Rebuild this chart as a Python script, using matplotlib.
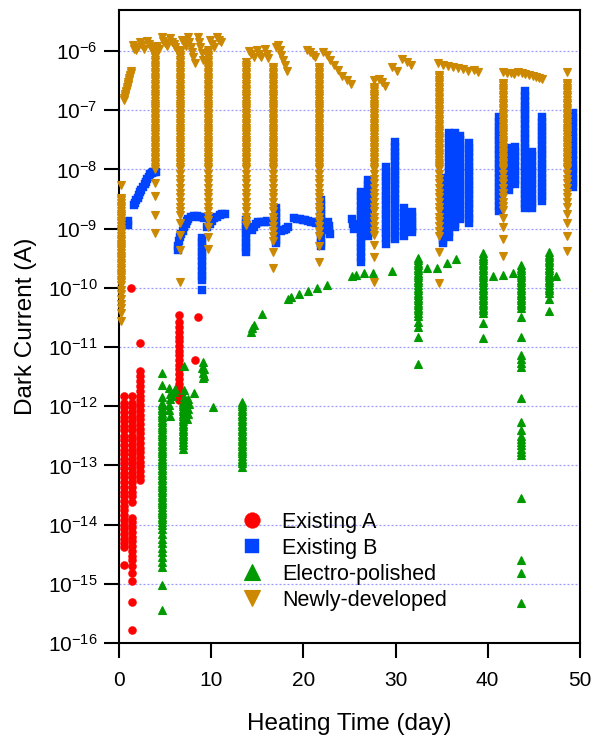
import numpy as np
import matplotlib
matplotlib.use("Agg")
import matplotlib.pyplot as plt
from matplotlib.ticker import FixedLocator, FuncFormatter, NullLocator

plt.rcParams['font.family'] = ['Liberation Sans', 'DejaVu Sans']
plt.rcParams['mathtext.default'] = 'regular'

# ---------------- data ----------------
series_names = ['Existing A', 'Existing B', 'Electro-polished', 'Newly-developed']
series_colors = ['#FF0000', '#0044FF', '#009A00', '#CC8800']
series_markers = ['o', 's', '^', 'v']
x_ticks = [0, 10, 20, 30, 40, 50]
y_tick_exponents = [-16, -15, -14, -13, -12, -11, -10, -9, -8, -7, -6]

# Existing A (red circles): isolated points and vertical runs (day, list of currents)
a_pts = [(1.27, 1.0e-10), (2.3, 1.15e-11), (8.2, 6.0e-12), (8.55, 3.2e-11)]
a_runs_x = [0.5, 1.43, 2.3, 6.43]
a_runs_y = [
    [1.5e-12, 1.15e-12, 9.6e-13, 8.0e-13, 6.7e-13, 5.6e-13, 4.6e-13, 3.9e-13, 3.2e-13, 2.7e-13, 2.2e-13,
     1.85e-13, 1.55e-13, 1.3e-13, 1.1e-13, 9.0e-14, 7.5e-14, 6.3e-14, 5.2e-14, 4.3e-14, 3.6e-14, 3.0e-14,
     2.5e-14, 2.1e-14, 1.75e-14, 1.45e-14, 1.2e-14, 1.0e-14, 8.4e-15, 7.0e-15, 5.8e-15, 4.9e-15, 4.2e-15, 2.1e-15],
    [1.5e-12, 1.15e-12, 9.6e-13, 8.0e-13, 6.7e-13, 5.6e-13, 4.6e-13, 3.9e-13, 3.2e-13, 2.7e-13, 2.2e-13,
     1.85e-13, 1.55e-13, 1.3e-13, 1.1e-13, 9.0e-14, 7.5e-14, 6.3e-14, 5.2e-14, 4.3e-14, 3.6e-14, 3.0e-14,
     2.4e-14, 1.3e-14, 1.1e-14, 9.0e-15, 7.5e-15, 6.3e-15, 5.2e-15, 4.3e-15, 3.6e-15, 3.0e-15, 2.5e-15,
     2.0e-15, 1.5e-15, 1.1e-15, 4.9e-16, 1.65e-16],
    [4.0e-12, 3.3e-12, 2.7e-12, 2.2e-12, 1.8e-12, 1.5e-12, 1.25e-12, 1.05e-12, 8.7e-13, 7.2e-13, 6.0e-13,
     5.0e-13, 4.2e-13, 3.5e-13, 2.9e-13, 2.4e-13, 2.0e-13, 1.7e-13, 1.4e-13, 1.15e-13, 9.6e-14, 8.0e-14,
     6.7e-14, 5.7e-14],
    [3.45e-11, 2.6e-11, 2.2e-11, 1.8e-11, 1.5e-11, 1.25e-11, 1.05e-11, 8.7e-12, 7.2e-12, 6.0e-12, 5.0e-12,
     4.2e-12, 3.5e-12, 2.9e-12, 2.4e-12, 2.0e-12, 1.7e-12, 1.45e-12, 1.25e-12],
]

# Existing B (blue squares)
b_pts = [
    (1.0, 1.15e-9), (1.0, 1.35e-9),
    (1.55, 2.5e-9), (1.7, 2.75e-9), (1.85, 3.0e-9), (2.0, 3.35e-9), (2.15, 3.7e-9), (2.3, 4.1e-9), (2.4, 4.5e-9),
    (2.6, 5.0e-9), (2.75, 5.6e-9), (2.9, 6.2e-9), (3.05, 6.9e-9), (3.2, 7.6e-9), (3.35, 8.3e-9), (3.5, 8.6e-9),
    (3.65, 8.9e-9), (3.8, 9.1e-9), (3.95, 9.2e-9),
    (6.4, 4.3e-10), (6.4, 5.1e-10), (6.45, 6.1e-10), (6.6, 7.2e-10), (6.75, 8.2e-10), (6.9, 9.3e-10),
    (7.05, 1.05e-9), (7.2, 1.2e-9), (7.35, 1.35e-9),
    (7.5, 1.45e-9), (7.8, 1.6e-9), (8.1, 1.65e-9), (8.4, 1.65e-9), (8.7, 1.6e-9), (9.0, 1.55e-9), (9.25, 1.5e-9),
    (9.0, 9.3e-11),
    (9.55, 1.05e-9), (9.8, 1.2e-9), (10.05, 1.35e-9), (10.3, 1.5e-9), (10.6, 1.6e-9), (10.9, 1.7e-9),
    (11.2, 1.75e-9), (11.45, 1.8e-9),
    (14.45, 9.5e-10), (14.6, 1.05e-9), (14.8, 1.2e-9), (15.1, 1.3e-9), (15.4, 1.3e-9), (15.7, 1.3e-9),
    (16.0, 1.35e-9), (16.3, 1.3e-9),
    (17.6, 9.0e-10), (17.85, 9.5e-10), (18.1, 1.0e-9), (18.3, 1.05e-9),
    (19.0, 1.5e-9), (19.3, 1.48e-9), (19.6, 1.45e-9), (19.9, 1.4e-9), (20.2, 1.38e-9), (20.5, 1.35e-9),
    (20.8, 1.3e-9), (21.1, 1.28e-9), (21.35, 1.25e-9),
    (22.7, 1.3e-9), (22.75, 1.1e-9), (22.8, 9.5e-10), (22.85, 8.2e-10),
    (25.3, 1.45e-9), (25.4, 1.2e-9), (25.5, 1.0e-9),
]
b_runs_x = [9.0, 13.75, 17.0, 21.9, 26.25, 27.0, 28.95, 29.9, 30.9, 31.8,
            35.1, 35.8, 36.45, 37.0, 37.95, 41.2, 42.3, 43.0, 44.05, 44.8, 45.9, 49.25]
b_runs_y = [
    [7.0e-10, 5.9e-10, 4.9e-10, 4.1e-10, 3.4e-10, 2.8e-10, 2.3e-10, 1.95e-10, 1.6e-10, 1.35e-10],
    [1.4e-9, 1.2e-9, 1.0e-9, 8.4e-10, 7.0e-10, 5.8e-10, 4.9e-10, 4.1e-10],
    [2.2e-9, 1.85e-9, 1.55e-9, 1.3e-9, 1.1e-9, 9.2e-10, 7.7e-10, 6.4e-10, 5.7e-10],
    [3.0e-9, 2.5e-9, 2.1e-9, 1.75e-9, 1.45e-9, 1.2e-9, 1.0e-9, 8.4e-10, 7.0e-10, 5.8e-10, 5.0e-10],
    [4.1e-9, 3.5e-9, 2.9e-9, 2.4e-9, 2.0e-9, 1.7e-9, 1.4e-9, 1.2e-9, 1.0e-9, 8.4e-10, 7.0e-10, 5.8e-10,
     4.9e-10, 4.0e-10, 3.3e-10, 2.7e-10],
    [6.6e-9, 5.5e-9, 4.6e-9, 3.8e-9, 3.2e-9, 2.6e-9, 2.2e-9, 1.85e-9, 1.55e-9, 1.3e-9, 1.1e-9, 9.0e-10, 7.4e-10],
    [1.1e-8, 9.0e-9, 7.5e-9, 6.3e-9, 5.2e-9, 4.3e-9, 3.6e-9, 3.0e-9, 2.5e-9, 2.1e-9, 1.75e-9, 1.45e-9,
     1.2e-9, 1.0e-9, 8.4e-10, 7.0e-10, 5.5e-10],
    [2.9e-8, 2.4e-8, 2.0e-8, 1.7e-8, 1.4e-8, 1.15e-8, 9.6e-9, 8.0e-9, 6.7e-9, 5.6e-9, 4.6e-9, 3.9e-9,
     3.2e-9, 2.7e-9, 2.2e-9, 1.85e-9, 1.55e-9, 1.3e-9, 1.1e-9, 9.0e-10, 7.5e-10, 6.7e-10],
    [2.2e-9, 1.85e-9, 1.55e-9, 1.3e-9, 1.1e-9, 9.0e-10, 7.4e-10],
    [1.9e-9, 1.6e-9, 1.35e-9, 1.15e-9, 1.0e-9, 8.8e-10],
    [7.1e-9, 5.9e-9, 4.9e-9, 4.1e-9, 3.4e-9, 2.8e-9, 2.3e-9, 1.95e-9, 1.6e-9, 1.35e-9, 1.1e-9, 9.3e-10,
     7.8e-10, 6.5e-10, 5.7e-10],
    [4.1e-8, 3.4e-8, 2.8e-8, 2.3e-8, 1.9e-8, 1.6e-8, 1.35e-8, 1.1e-8, 9.3e-9, 7.8e-9, 6.5e-9, 5.4e-9,
     4.5e-9, 3.7e-9, 3.1e-9, 2.6e-9, 2.2e-9, 1.8e-9, 1.5e-9, 1.25e-9, 1.05e-9, 8.7e-10, 7.3e-10],
    [4.1e-8, 3.4e-8, 2.8e-8, 2.35e-8, 1.95e-8, 1.6e-8, 1.35e-8, 1.1e-8, 9.2e-9, 7.7e-9, 6.4e-9, 5.3e-9,
     4.4e-9, 3.7e-9, 3.1e-9, 2.6e-9, 2.2e-9, 1.8e-9, 1.5e-9, 1.25e-9, 1.05e-9],
    [3.7e-8, 3.1e-8, 2.6e-8, 2.2e-8, 1.8e-8, 1.5e-8, 1.25e-8, 1.05e-8, 8.7e-9, 7.2e-9, 6.0e-9, 5.0e-9,
     4.2e-9, 3.5e-9, 2.9e-9, 2.4e-9, 2.0e-9, 1.7e-9, 1.45e-9],
    [2.8e-8, 2.3e-8, 1.95e-8, 1.6e-8, 1.35e-8, 1.1e-8, 9.3e-9, 7.8e-9, 6.5e-9, 5.4e-9, 4.5e-9, 3.8e-9,
     3.2e-9, 2.6e-9, 2.2e-9, 1.8e-9, 1.5e-9, 1.25e-9],
    [7.7e-8, 6.4e-8, 5.3e-8, 4.4e-8, 3.7e-8, 3.1e-8, 2.6e-8, 2.1e-8, 1.8e-8, 1.5e-8, 1.25e-8, 1.05e-8,
     8.7e-9, 7.2e-9, 6.0e-9, 5.0e-9, 4.2e-9, 3.5e-9, 2.9e-9, 2.4e-9, 2.0e-9],
    [2.3e-8, 1.9e-8, 1.6e-8, 1.35e-8, 1.1e-8, 9.3e-9, 7.8e-9, 6.5e-9, 5.4e-9, 4.5e-9],
    [2.4e-8, 2.0e-8, 1.7e-8, 1.4e-8, 1.15e-8, 9.6e-9, 8.0e-9, 6.7e-9, 5.6e-9],
    [2.1e-7, 1.75e-7, 1.45e-7, 1.2e-7, 1.0e-7, 8.4e-8, 7.0e-8, 5.8e-8, 4.9e-8, 4.0e-8, 3.4e-8, 2.8e-8,
     2.3e-8, 1.95e-8, 1.6e-8, 1.35e-8, 1.1e-8, 9.3e-9, 7.8e-9, 6.5e-9, 5.4e-9, 4.5e-9, 3.8e-9, 3.2e-9,
     2.6e-9, 2.2e-9],
    [2.0e-8, 1.7e-8, 1.4e-8, 1.15e-8, 9.6e-9, 8.0e-9, 6.7e-9, 5.6e-9, 4.6e-9, 3.9e-9, 3.2e-9, 2.7e-9, 2.2e-9],
    [7.7e-8, 6.4e-8, 5.3e-8, 4.4e-8, 3.7e-8, 3.1e-8, 2.6e-8, 2.1e-8, 1.8e-8, 1.5e-8, 1.25e-8, 1.05e-8,
     8.7e-9, 7.2e-9, 6.0e-9, 5.0e-9, 4.2e-9, 3.5e-9, 2.9e-9],
    [9.0e-8, 7.5e-8, 6.3e-8, 5.2e-8, 4.3e-8, 3.6e-8, 3.0e-8, 2.5e-8, 2.1e-8, 1.75e-8, 1.45e-8, 1.2e-8,
     1.0e-8, 8.4e-9, 7.0e-9, 5.8e-9, 5.0e-9],
]

# Electro-polished (green up-triangles)
e_pts = [
    (5.45, 2.0e-12), (5.5, 1.6e-12), (5.5, 1.3e-12), (5.45, 1.05e-12), (5.45, 8.5e-13), (5.5, 6.8e-13),
    (5.75, 1.5e-12), (5.9, 1.75e-12), (6.0, 1.95e-12),
    (7.0, 4.8e-12), (7.05, 1.9e-12), (7.0, 1.45e-12),
    (7.5, 1.3e-12), (7.55, 1.1e-12), (7.5, 9.0e-13), (7.45, 7.5e-13), (7.4, 6.2e-13),
    (8.1, 1.7e-12),
    (9.1, 5.6e-12), (9.0, 4.5e-12), (9.2, 4.2e-12), (9.05, 3.7e-12), (9.15, 3.3e-12), (9.1, 3.0e-12),
    (10.2, 9.6e-13),
    (14.3, 1.8e-11), (14.45, 2.1e-11), (14.6, 2.4e-11), (15.45, 3.6e-11),
    (18.3, 6.5e-11), (18.6, 7.0e-11), (19.5, 8.0e-11), (20.5, 8.8e-11), (21.5, 1.0e-10), (22.55, 1.1e-10),
    (25.3, 1.6e-10), (25.65, 1.65e-10), (26.6, 1.75e-10), (27.5, 1.8e-10), (29.6, 1.9e-10),
    (33.4, 2.15e-10), (34.5, 2.2e-10), (35.6, 2.6e-10), (36.6, 3.05e-10),
    (40.6, 1.6e-10), (41.7, 1.65e-10), (42.7, 1.8e-10),
    (47.45, 1.6e-10),
]
e_runs_x = [4.64, 6.95, 13.3, 32.4, 39.5, 43.6, 46.65]
e_runs_y = [
    [3.6e-12, 2.3e-12, 1.45e-12, 1.15e-12, 1.05e-12, 9.5e-13, 8.6e-13, 7.8e-13, 7.1e-13, 6.5e-13, 5.9e-13,
     5.4e-13, 4.9e-13, 4.5e-13, 4.1e-13, 3.7e-13, 3.4e-13, 3.1e-13, 2.8e-13, 2.55e-13, 2.3e-13, 2.1e-13,
     1.9e-13, 1.75e-13, 1.6e-13, 1.45e-13, 1.3e-13, 1.2e-13, 1.1e-13, 1.0e-13, 9.1e-14, 8.3e-14, 7.5e-14,
     6.8e-14, 6.2e-14, 5.6e-14, 5.1e-14, 4.7e-14, 4.3e-14, 3.9e-14, 3.5e-14, 3.2e-14, 2.9e-14, 2.65e-14,
     2.4e-14, 2.2e-14, 2.0e-14, 1.8e-14, 1.65e-14, 1.5e-14, 1.35e-14, 1.25e-14, 1.1e-14, 1.0e-14,
     8.4e-15, 7.0e-15, 5.8e-15, 4.9e-15, 4.0e-15, 3.4e-15, 2.8e-15, 2.3e-15, 1.9e-15, 9.4e-16, 3.6e-16],
    [1.2e-12, 1.1e-12, 1.0e-12, 9.1e-13, 8.3e-13, 7.5e-13, 6.8e-13, 6.2e-13, 5.6e-13, 5.1e-13, 4.6e-13,
     4.2e-13, 3.8e-13, 3.4e-13, 3.1e-13, 2.8e-13, 2.5e-13, 2.2e-13, 1.9e-13],
    [1.2e-12, 1.1e-12, 1.0e-12, 9.1e-13, 8.3e-13, 7.5e-13, 6.8e-13, 6.2e-13, 5.6e-13, 5.1e-13, 4.6e-13,
     4.2e-13, 3.8e-13, 3.4e-13, 3.1e-13, 2.8e-13, 2.55e-13, 2.3e-13, 2.1e-13, 1.9e-13, 1.75e-13, 1.6e-13,
     1.45e-13, 1.3e-13, 1.2e-13, 1.1e-13, 9.3e-14],
    [3.2e-10, 2.9e-10, 2.65e-10, 2.4e-10, 2.2e-10, 2.0e-10, 1.8e-10, 1.65e-10, 1.5e-10, 1.35e-10, 1.25e-10,
     1.1e-10, 1.0e-10, 9.1e-11, 8.3e-11, 7.5e-11, 6.8e-11, 6.2e-11, 5.6e-11, 5.1e-11, 4.6e-11, 4.2e-11,
     3.8e-11, 3.4e-11, 2.6e-11, 2.2e-11, 1.5e-11, 5.1e-12],
    [3.9e-10, 3.5e-10, 3.2e-10, 2.9e-10, 2.65e-10, 2.4e-10, 2.2e-10, 2.0e-10, 1.8e-10, 1.65e-10, 1.5e-10,
     1.35e-10, 1.25e-10, 1.1e-10, 1.0e-10, 9.1e-11, 8.3e-11, 7.5e-11, 6.8e-11, 6.2e-11, 5.6e-11, 5.1e-11,
     4.6e-11, 4.2e-11, 3.8e-11, 2.5e-11, 1.4e-11],
    [2.4e-10, 2.2e-10, 2.0e-10, 1.8e-10, 1.65e-10, 1.5e-10, 1.35e-10, 1.25e-10, 1.1e-10, 1.0e-10, 9.1e-11,
     8.3e-11, 7.5e-11, 6.8e-11, 6.2e-11, 5.6e-11, 5.1e-11, 4.6e-11, 3.2e-11, 1.5e-11, 7.3e-12, 6.4e-12,
     5.4e-12, 4.6e-12, 1.4e-12, 5.4e-13, 3.9e-13, 3.2e-13, 2.8e-13, 2.5e-13, 2.2e-13, 1.9e-13, 1.7e-13,
     1.5e-13, 2.8e-14, 2.5e-15, 1.5e-15, 4.7e-16],
    [4.0e-10, 3.6e-10, 3.3e-10, 3.0e-10, 2.7e-10, 2.45e-10, 2.2e-10, 2.0e-10, 1.8e-10, 1.65e-10, 1.5e-10,
     1.35e-10, 1.25e-10, 1.1e-10, 1.0e-10, 9.1e-11, 8.2e-11, 6.5e-11, 4.0e-11],
]

# Newly-developed (orange down-triangles)
n_pts = [
    (0.5, 1.5e-7), (0.55, 1.6e-7), (0.6, 1.75e-7), (0.65, 1.85e-7), (0.7, 2.0e-7), (0.75, 2.15e-7),
    (0.8, 2.3e-7), (0.85, 2.5e-7), (0.9, 2.65e-7), (0.95, 2.8e-7), (1.0, 3.0e-7), (1.05, 3.25e-7),
    (1.1, 3.5e-7), (1.15, 3.75e-7), (1.2, 4.0e-7), (1.25, 4.3e-7), (1.3, 4.6e-7),
    (1.45, 1.25e-6), (1.65, 1.1e-6), (1.85, 1.05e-6), (2.05, 1.15e-6), (2.3, 1.45e-6), (2.5, 1.25e-6),
    (2.7, 1.1e-6), (3.0, 1.5e-6), (3.2, 1.3e-6), (3.4, 1.15e-6), (3.6, 1.05e-6),
    (4.1, 1.2e-6), (4.3, 1.1e-6), (4.6, 1.7e-6), (4.8, 1.5e-6), (5.0, 1.35e-6), (5.2, 1.2e-6), (5.5, 1.65e-6),
    (5.7, 1.45e-6), (5.9, 1.3e-6), (6.1, 1.15e-6), (6.3, 1.05e-6),
    (6.8, 1.55e-6), (7.0, 1.35e-6), (7.2, 1.2e-6), (7.45, 1.7e-6), (7.6, 1.4e-6), (7.75, 1.15e-6),
    (7.9, 9.5e-7), (8.05, 7.8e-7), (8.2, 6.3e-7), (8.5, 1.7e-6), (8.65, 1.4e-6), (8.8, 1.15e-6),
    (8.95, 9.2e-7), (9.1, 7.2e-7),
    (9.9, 1.55e-6), (10.1, 1.3e-6), (10.3, 1.15e-6), (10.6, 1.7e-6), (10.8, 1.55e-6), (11.0, 1.4e-6),
    (14.1, 1.0e-6), (14.35, 8.8e-7), (14.6, 7.8e-7), (14.9, 1.05e-6), (15.15, 9.0e-7), (15.4, 7.8e-7),
    (15.8, 1.1e-6), (16.0, 9.0e-7), (16.2, 7.5e-7),
    (17.0, 1.15e-6), (17.2, 1.25e-6), (17.4, 1.05e-6), (17.6, 8.6e-7), (17.8, 7.0e-7), (18.0, 5.8e-7),
    (18.2, 4.6e-7),
    (20.4, 1.05e-6), (20.7, 9.5e-7), (21.0, 8.6e-7), (21.3, 8.0e-7), (22.1, 9.5e-7), (22.5, 8.5e-7),
    (22.9, 7.2e-7), (23.3, 5.8e-7), (23.7, 4.7e-7), (24.2, 3.8e-7), (24.7, 3.2e-7), (25.2, 2.8e-7),
    (28.2, 3.4e-7), (28.5, 3.0e-7), (28.9, 2.6e-7), (29.6, 5.4e-7), (30.1, 4.6e-7), (30.7, 7.3e-7),
    (31.2, 6.5e-7), (31.7, 5.8e-7),
    (34.6, 6.2e-7), (35.1, 5.8e-7), (35.7, 5.5e-7), (36.2, 5.3e-7), (36.8, 5.1e-7), (37.3, 4.9e-7),
    (37.9, 4.6e-7), (38.5, 4.7e-7), (38.9, 4.5e-7),
    (41.7, 4.4e-7), (42.1, 4.3e-7), (42.5, 4.2e-7), (42.9, 4.1e-7), (43.3, 4.35e-7), (43.7, 4.3e-7),
    (44.1, 4.1e-7), (44.5, 3.9e-7), (44.9, 3.75e-7), (45.3, 3.6e-7), (45.6, 3.45e-7), (45.9, 3.35e-7),
]
n_runs_x = [0.2, 3.88, 6.55, 9.63, 13.76, 16.7, 21.7, 27.65, 34.7, 41.7, 48.6]
n_runs_y = [
    [5.5e-9, 3.3e-9, 3.0e-9, 2.7e-9, 2.45e-9, 2.2e-9, 2.0e-9, 1.8e-9, 1.65e-9, 1.5e-9, 1.35e-9, 1.25e-9,
     1.1e-9, 1.0e-9, 9.1e-10, 8.3e-10, 7.5e-10, 6.8e-10, 6.2e-10, 5.6e-10, 5.1e-10, 4.7e-10, 4.3e-10,
     3.9e-10, 3.5e-10, 3.2e-10, 2.9e-10, 2.65e-10, 2.4e-10, 2.2e-10, 2.0e-10, 1.8e-10, 1.65e-10, 1.5e-10,
     1.35e-10, 1.25e-10, 1.1e-10, 9.3e-11, 7.8e-11, 6.5e-11, 5.4e-11, 4.5e-11, 3.7e-11, 2.8e-11],
    [1.05e-6, 9.5e-7, 8.6e-7, 7.8e-7, 7.1e-7, 6.5e-7, 5.9e-7, 5.4e-7, 4.9e-7, 4.5e-7, 4.1e-7, 3.7e-7,
     3.4e-7, 3.1e-7, 2.8e-7, 2.55e-7, 2.3e-7, 2.1e-7, 1.9e-7, 1.75e-7, 1.6e-7, 1.45e-7, 1.3e-7, 1.2e-7,
     1.1e-7, 1.0e-7, 9.1e-8, 8.3e-8, 7.5e-8, 6.8e-8, 6.2e-8, 5.6e-8, 5.1e-8, 4.7e-8, 4.3e-8, 3.9e-8,
     3.5e-8, 3.2e-8, 2.9e-8, 2.65e-8, 2.4e-8, 2.2e-8, 2.0e-8, 1.8e-8, 1.65e-8, 1.5e-8, 1.35e-8, 1.25e-8,
     1.1e-8, 1.0e-8, 5.9e-9, 3.5e-9, 1.7e-9, 8.4e-10],
    [1.05e-6, 9.5e-7, 8.6e-7, 7.8e-7, 7.1e-7, 6.5e-7, 5.9e-7, 5.4e-7, 4.9e-7, 4.5e-7, 4.1e-7, 3.7e-7,
     3.4e-7, 3.1e-7, 2.8e-7, 2.55e-7, 2.3e-7, 2.1e-7, 1.9e-7, 1.75e-7, 1.6e-7, 1.45e-7, 1.3e-7, 1.2e-7,
     1.1e-7, 1.0e-7, 9.1e-8, 8.3e-8, 7.5e-8, 6.8e-8, 6.2e-8, 5.6e-8, 5.1e-8, 4.7e-8, 4.3e-8, 3.9e-8,
     3.5e-8, 3.2e-8, 2.9e-8, 2.65e-8, 2.4e-8, 2.2e-8, 2.0e-8, 1.8e-8, 1.65e-8, 1.5e-8, 1.35e-8, 1.25e-8,
     1.1e-8, 1.0e-8, 8.4e-9, 7.0e-9, 5.8e-9, 4.9e-9, 4.0e-9, 3.4e-9, 2.8e-9, 2.3e-9, 1.95e-9, 1.7e-9,
     1.24e-9, 7.8e-10, 4.3e-10, 1.25e-10],
    [1.05e-6, 9.5e-7, 8.6e-7, 7.8e-7, 7.1e-7, 6.5e-7, 5.9e-7, 5.4e-7, 4.9e-7, 4.5e-7, 4.1e-7, 3.7e-7,
     3.4e-7, 3.1e-7, 2.8e-7, 2.55e-7, 2.3e-7, 2.1e-7, 1.9e-7, 1.75e-7, 1.6e-7, 1.45e-7, 1.3e-7, 1.2e-7,
     1.1e-7, 1.0e-7, 9.1e-8, 8.3e-8, 7.5e-8, 6.8e-8, 6.2e-8, 5.6e-8, 5.1e-8, 4.7e-8, 4.3e-8, 3.9e-8,
     3.5e-8, 3.2e-8, 2.9e-8, 2.65e-8, 2.4e-8, 2.2e-8, 2.0e-8, 1.8e-8, 1.65e-8, 1.5e-8, 1.35e-8, 1.25e-8,
     1.1e-8, 1.0e-8, 8.4e-9, 7.0e-9, 5.8e-9, 4.9e-9, 4.0e-9, 3.4e-9, 2.8e-9, 2.3e-9, 1.95e-9, 1.65e-9,
     1.4e-9, 1.06e-9, 7.2e-10, 4.5e-10],
    [6.5e-7, 5.9e-7, 5.4e-7, 4.9e-7, 4.5e-7, 4.1e-7, 3.7e-7, 3.4e-7, 3.1e-7, 2.8e-7, 2.55e-7, 2.3e-7,
     2.1e-7, 1.9e-7, 1.75e-7, 1.6e-7, 1.45e-7, 1.3e-7, 1.2e-7, 1.1e-7, 1.0e-7, 9.1e-8, 8.3e-8, 7.5e-8,
     6.8e-8, 6.2e-8, 5.6e-8, 5.1e-8, 4.7e-8, 4.3e-8, 3.9e-8, 3.5e-8, 3.2e-8, 2.9e-8, 2.65e-8, 2.4e-8,
     2.2e-8, 2.0e-8, 1.8e-8, 1.65e-8, 1.5e-8, 1.35e-8, 1.25e-8, 1.1e-8, 1.0e-8, 8.4e-9, 7.0e-9, 5.8e-9,
     4.9e-9, 4.0e-9, 3.4e-9, 2.8e-9, 2.3e-9, 1.95e-9, 1.6e-9, 1.35e-9, 1.15e-9],
    [5.4e-7, 4.9e-7, 4.5e-7, 4.1e-7, 3.7e-7, 3.4e-7, 3.1e-7, 2.8e-7, 2.55e-7, 2.3e-7, 2.1e-7, 1.9e-7,
     1.75e-7, 1.6e-7, 1.45e-7, 1.3e-7, 1.2e-7, 1.1e-7, 1.0e-7, 9.1e-8, 8.3e-8, 7.5e-8, 6.8e-8, 6.2e-8,
     5.6e-8, 5.1e-8, 4.7e-8, 4.3e-8, 3.9e-8, 3.5e-8, 3.2e-8, 2.9e-8, 2.65e-8, 2.4e-8, 2.2e-8, 2.0e-8,
     1.8e-8, 1.65e-8, 1.5e-8, 1.35e-8, 1.25e-8, 1.1e-8, 1.0e-8, 8.4e-9, 7.0e-9, 5.8e-9, 4.9e-9, 4.0e-9,
     3.4e-9, 2.8e-9, 2.3e-9, 1.95e-9, 1.6e-9, 1.35e-9, 1.1e-9, 9.0e-10, 7.5e-10, 6.2e-10, 4.0e-10, 2.15e-10],
    [5.4e-7, 4.9e-7, 4.5e-7, 4.1e-7, 3.7e-7, 3.4e-7, 3.1e-7, 2.8e-7, 2.55e-7, 2.3e-7, 2.1e-7, 1.9e-7,
     1.75e-7, 1.6e-7, 1.45e-7, 1.3e-7, 1.2e-7, 1.1e-7, 1.0e-7, 9.1e-8, 8.3e-8, 7.5e-8, 6.8e-8, 6.2e-8,
     5.6e-8, 5.1e-8, 4.7e-8, 4.3e-8, 3.9e-8, 3.5e-8, 3.2e-8, 2.9e-8, 2.65e-8, 2.4e-8, 2.2e-8, 2.0e-8,
     1.8e-8, 1.65e-8, 1.5e-8, 1.35e-8, 1.25e-8, 1.1e-8, 1.0e-8, 8.4e-9, 7.0e-9, 5.8e-9, 4.9e-9, 4.0e-9,
     3.4e-9, 2.8e-9, 2.3e-9, 1.95e-9, 1.6e-9, 1.35e-9, 1.1e-9, 9.0e-10, 7.4e-10, 5.1e-10, 2.7e-10],
    [3.2e-7, 2.5e-7, 2.3e-7, 2.1e-7, 1.9e-7, 1.75e-7, 1.6e-7, 1.45e-7, 1.3e-7, 1.2e-7, 1.1e-7, 1.0e-7,
     9.1e-8, 8.3e-8, 7.5e-8, 6.8e-8, 6.2e-8, 5.6e-8, 5.1e-8, 4.7e-8, 4.3e-8, 3.9e-8, 3.5e-8, 3.2e-8,
     2.9e-8, 2.65e-8, 2.4e-8, 2.2e-8, 2.0e-8, 1.8e-8, 1.65e-8, 1.5e-8, 1.35e-8, 1.25e-8, 1.1e-8, 1.0e-8,
     8.4e-9, 7.0e-9, 5.8e-9, 4.9e-9, 4.0e-9, 3.4e-9, 2.8e-9, 2.3e-9, 1.95e-9, 1.6e-9, 1.35e-9, 1.1e-9,
     9.0e-10, 7.8e-10, 5.3e-10, 3.3e-10, 1.25e-10],
    [3.9e-7, 3.6e-7, 3.3e-7, 3.0e-7, 2.75e-7, 2.5e-7, 2.25e-7, 2.05e-7, 1.85e-7, 1.7e-7, 1.55e-7, 1.4e-7,
     1.28e-7, 1.16e-7, 1.05e-7, 9.6e-8, 8.7e-8, 7.9e-8, 7.2e-8, 6.5e-8, 5.9e-8, 5.4e-8, 4.9e-8, 4.5e-8,
     4.1e-8, 3.7e-8, 3.4e-8, 3.1e-8, 2.8e-8, 2.55e-8, 2.3e-8, 2.1e-8, 1.9e-8, 1.75e-8, 1.6e-8, 1.45e-8,
     1.3e-8, 1.2e-8, 1.1e-8, 1.0e-8, 8.4e-9, 7.0e-9, 5.8e-9, 4.9e-9, 4.0e-9, 3.4e-9, 2.8e-9, 2.3e-9,
     1.95e-9, 1.6e-9, 1.35e-9, 1.1e-9, 9.3e-10, 7.6e-10, 4.0e-10, 1.2e-10],
    [2.9e-7, 2.65e-7, 2.4e-7, 2.2e-7, 2.0e-7, 1.8e-7, 1.65e-7, 1.5e-7, 1.35e-7, 1.25e-7, 1.1e-7, 1.0e-7,
     9.1e-8, 8.3e-8, 7.5e-8, 6.8e-8, 6.2e-8, 5.6e-8, 5.1e-8, 4.7e-8, 4.3e-8, 3.9e-8, 3.5e-8, 3.2e-8,
     2.9e-8, 2.65e-8, 2.4e-8, 2.2e-8, 2.0e-8, 1.8e-8, 1.65e-8, 1.5e-8, 1.35e-8, 1.25e-8, 1.1e-8, 1.0e-8,
     8.4e-9, 7.0e-9, 5.8e-9, 4.9e-9, 4.0e-9, 3.4e-9, 2.8e-9, 2.4e-9, 2.05e-9, 1.5e-9, 1.06e-9, 6.6e-10,
     3.4e-10],
    [4.4e-7, 2.9e-7, 2.65e-7, 2.4e-7, 2.2e-7, 2.0e-7, 1.8e-7, 1.65e-7, 1.5e-7, 1.35e-7, 1.25e-7, 1.1e-7,
     1.0e-7, 9.1e-8, 8.3e-8, 7.5e-8, 6.8e-8, 6.2e-8, 5.6e-8, 5.1e-8, 4.7e-8, 4.3e-8, 3.9e-8, 3.5e-8,
     3.2e-8, 2.9e-8, 2.65e-8, 2.4e-8, 2.2e-8, 2.0e-8, 1.8e-8, 1.65e-8, 1.5e-8, 1.35e-8, 1.25e-8, 1.1e-8,
     1.0e-8, 8.4e-9, 7.0e-9, 5.8e-9, 4.9e-9, 4.0e-9, 3.4e-9, 2.8e-9, 2.3e-9, 1.8e-9, 1.24e-9, 7.5e-10,
     4.2e-10],
]


def gather(pts, runs_x, runs_y):
    xs = [p[0] for p in pts]
    ys = [p[1] for p in pts]
    for rx, ry in zip(runs_x, runs_y):
        for v in ry:
            xs.append(rx)
            ys.append(v)
    return xs, ys


series_data = [
    gather(a_pts, a_runs_x, a_runs_y),
    gather(b_pts, b_runs_x, b_runs_y),
    gather(e_pts, e_runs_x, e_runs_y),
    gather(n_pts, n_runs_x, n_runs_y),
]
marker_sizes = [5.8, 5.4, 6.2, 6.2]
edge_widths = [0.3, 0.3, 0.8, 0.8]

# ---------------- plot ----------------
fig = plt.figure(figsize=(6.0, 7.38), dpi=100)
ax = fig.add_axes([0.1988, 0.1287, 0.7675, 0.8577])

handles = []
for (xs, ys), name, col, mk, ms, mew in zip(series_data, series_names, series_colors, series_markers,
                                             marker_sizes, edge_widths):
    h, = ax.plot(xs, ys, linestyle='none', marker=mk, markersize=ms, markeredgewidth=mew,
                 markeredgecolor=col, color=col, label=name, clip_on=False, zorder=3)
    handles.append(h)

ax.set_yscale('log')
ax.set_xlim(0, 50)
ax.set_ylim(1e-16, 10 ** (-5.307))

ax.xaxis.set_major_locator(FixedLocator(x_ticks))
ax.yaxis.set_major_locator(FixedLocator([10.0 ** e for e in y_tick_exponents]))
ax.yaxis.set_minor_locator(NullLocator())
ax.xaxis.set_minor_locator(NullLocator())
ax.yaxis.set_major_formatter(FuncFormatter(lambda v, p: r'$\mathregular{10^{%d}}$' % int(round(np.log10(v)))))

ax.yaxis.grid(True, linestyle=(0, (1.6, 1.6)), color='#9c9cff', linewidth=0.9, zorder=0)
ax.set_axisbelow(True)

for s in ax.spines.values():
    s.set_linewidth(1.5)
ax.tick_params(axis='both', which='major', direction='out', length=10.5, width=1.5, labelsize=15)
ax.tick_params(axis='y', pad=5)
ax.tick_params(axis='x', pad=10)

ax.set_ylabel('Dark Current (A)', fontsize=17.5)
ax.set_xlabel('Heating Time (day)', fontsize=17.5)
ax.yaxis.set_label_coords(-0.178, 0.5)
ax.xaxis.set_label_coords(0.5, -0.11)

leg = ax.legend(handles=handles, loc='upper left', bbox_to_anchor=(0.2646, 0.207), frameon=False,
                fontsize=15.5, markerscale=1.95, handlelength=1.0, handletextpad=0.9,
                labelspacing=0.23, borderpad=0.0, borderaxespad=0.0)

fig.savefig('out.png', dpi=100)
